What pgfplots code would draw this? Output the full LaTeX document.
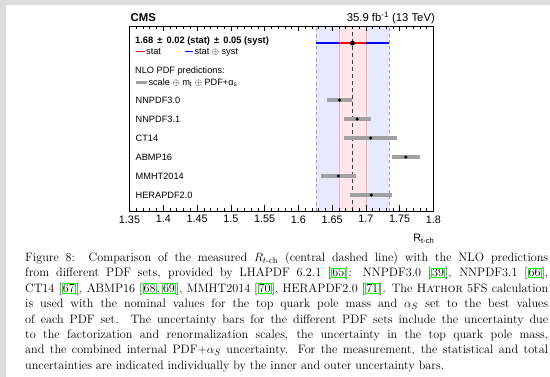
\documentclass[border=0pt]{standalone}
\usepackage{fontspec}
\usepackage{amsmath}
\usepackage{xcolor}
\usepackage{pgfplots}
\pgfplotsset{compat=1.18}
\newfontfamily\hv{Liberation Sans}
\definecolor{bandblue}{RGB}{232,232,254}
\definecolor{bandred}{RGB}{255,230,234}
\definecolor{dashblue}{RGB}{145,145,250}
\definecolor{edgered}{RGB}{240,175,185}
\definecolor{barg}{RGB}{160,160,160}
\definecolor{pagegrey}{RGB}{221,221,221}
\definecolor{linkgreen}{RGB}{0,255,0}
\definecolor{mblue}{RGB}{0,0,255}
\definecolor{mred}{RGB}{255,0,0}
\newcommand\cit[1]{{\setlength\fboxsep{0.3pt}\setlength\fboxrule{0.7pt}\fcolorbox{linkgreen}{white}{#1}}}
\newcommand\capline[2]{\node[anchor=base west, inner sep=0, font=\fontsize{12.2}{15.4}\selectfont] at (25,#1) {#2};}
\pgfplotstableread{
x y em ep
1.661 6 0.019 0.018
1.687 5 0.019 0.021
1.707 4 0.039 0.039
1.759 3 0.021 0.021
1.659 2 0.026 0.027
1.708 1 0.031 0.030
}\pred
\begin{document}
\begin{tikzpicture}[x=1pt,y=1pt]
\path[use as bounding box] (0,0) rectangle (550,377);
\fill[pagegrey] (0,0) rectangle (6,377);
\fill[pagegrey] (0,371.7) rectangle (550,377);
\begin{axis}[at={(129.5pt,166pt)}, anchor=south west, scale only axis,
  width=304pt, height=185pt,
  xmin=1.35, xmax=1.8, ymin=0.16, ymax=9.9,
  axis on top, axis line style={black, line width=0.9pt},
  xtick={1.35,1.4,1.45,1.5,1.55,1.6,1.65,1.7,1.75,1.8},
  xticklabels={1.35,1.4,1.45,1.5,1.55,1.6,1.65,1.7,1.75,1.8},
  minor x tick num=4, xtick pos=both, xticklabel pos=bottom, ytick=\empty,
  tick align=inside, major tick length=5.5pt, minor tick length=3pt,
  tick style={black, line width=0.6pt},
  x tick label style={font=\hv\fontsize{10.8}{12}\selectfont, yshift=-1pt},
]
\addplot[fill=bandblue, draw=none] coordinates {(1.626,0.16) (1.734,0.16) (1.734,9.9) (1.626,9.9)} -- cycle;
\addplot[fill=bandred, draw=none] coordinates {(1.66,0.16) (1.70,0.16) (1.70,9.9) (1.66,9.9)} -- cycle;
\addplot[dashblue, dashed, line width=0.7pt] coordinates {(1.626,0.16) (1.626,9.9)};
\addplot[dashblue, dashed, line width=0.7pt] coordinates {(1.734,0.16) (1.734,9.9)};
\addplot[edgered, line width=0.6pt] coordinates {(1.66,0.16) (1.66,9.9)};
\addplot[edgered, line width=0.6pt] coordinates {(1.70,0.16) (1.70,9.9)};
\addplot[black!75, dashed, dash pattern=on 4pt off 3pt, line width=0.9pt] coordinates {(1.68,0.16) (1.68,9.9)};
\addplot[only marks, mark=*, mark size=1.4pt, black,
  error bars/.cd, x dir=both, x explicit,
  error bar style={line width=4pt, color=barg}, error mark=none]
  table[x=x, y=y, x error minus=em, x error plus=ep] {\pred};
\addplot[color=mblue, no marks, line width=1.3pt] coordinates {(1.626,9) (1.734,9)};
\addplot[color=mred, no marks, line width=1.3pt] coordinates {(1.66,9) (1.70,9)};
\addplot[only marks, mark=*, mark size=2.2pt, black] coordinates {(1.68,9)};
\end{axis}
% header texts
\node[anchor=base west, inner sep=0, font=\hv\bfseries\fontsize{11.3}{13}\selectfont] at (130.5,355.5) {CMS};
\node[anchor=base east, inner sep=0, font=\hv\fontsize{11.3}{13}\selectfont] at (435,355.5) {35.9 fb\textsuperscript{-1} (13 TeV)};
% in-frame legend
\node[anchor=base west, inner sep=0, font=\hv\bfseries\fontsize{9.3}{11}\selectfont] at (135,333.5) {1.68 \,±\, 0.02 (stat) \,±\, 0.05 (syst)};
\node[anchor=base west, inner sep=0, font=\hv\fontsize{9.2}{11}\selectfont] at (136,322.5) {\textcolor{mred}{\rule[2.4pt]{8.5pt}{1.3pt}}\hspace{1.5pt}stat};
\node[anchor=base west, inner sep=0, font=\hv\fontsize{9.2}{11}\selectfont] at (184.3,322.5) {\textcolor{mblue}{\rule[2.4pt]{8.5pt}{1.3pt}}\hspace{1.5pt}stat $\oplus$ syst};
\node[anchor=base west, inner sep=0, font=\hv\fontsize{9.2}{11}\selectfont] at (135,303) {NLO PDF predictions:};
\node[anchor=base west, inner sep=0, font=\hv\fontsize{9.2}{11}\selectfont] at (136,291.5) {\textcolor{barg}{\rule[1.4pt]{10.7pt}{3pt}}\hspace{1.6pt}scale $\oplus$ m\textsubscript{t} $\oplus$ PDF+α\textsubscript{s}};
% PDF names
\foreach \nm/\yy in {NNPDF3.0/276.9, NNPDF3.1/257.9, CT14/238.9, ABMP16/219.9, MMHT2014/200.9, HERAPDF2.0/181.9}
  \node[anchor=west, inner sep=0, font=\hv\fontsize{9.2}{11}\selectfont] at (135.5,\yy) {\nm};
% x label
\node[anchor=base east, inner sep=0, font=\hv\fontsize{10.8}{12}\selectfont] at (434.5,135) {R\textsubscript{t-ch}};
% caption
\capline{115.5}{\makebox[523pt][s]{Figure 8:\ \ Comparison of the measured $R_{t\text{-ch}}$ (central dashed line) with the NLO predictions}}
\capline{100.1}{\makebox[523pt][s]{from different PDF sets, provided by LHAPDF 6.2.1 [\cit{65}]: NNPDF3.0 [\cit{39}], NNPDF3.1 [\cit{66}],}}
\capline{84.7}{\makebox[523pt][s]{CT14 [\cit{67}], ABMP16 [\cit{68},\,\cit{69}], MMHT2014 [\cit{70}], HERAPDF2.0 [\cit{71}]. The \textsc{Hathor} 5FS calculation}}
\capline{69.3}{\makebox[523pt][s]{is used with the nominal values for the top quark pole mass and $\alpha_S$ set to the best values}}
\capline{53.9}{\makebox[523pt][s]{of each PDF set.\ \ The uncertainty bars for the different PDF sets include the uncertainty due}}
\capline{38.5}{\makebox[523pt][s]{to the factorization and renormalization scales, the uncertainty in the top quark pole mass,}}
\capline{23.1}{\makebox[523pt][s]{and the combined internal PDF+$\alpha_S$ uncertainty. For the measurement, the statistical and total}}
\capline{7.7}{uncertainties are indicated individually by the inner and outer uncertainty bars.}
\end{tikzpicture}
\end{document}
